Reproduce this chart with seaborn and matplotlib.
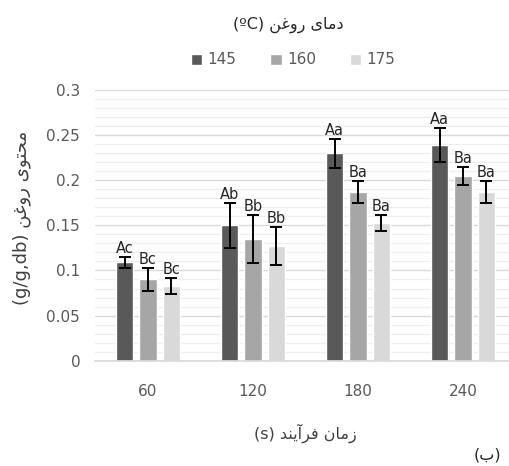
import matplotlib
matplotlib.use("Agg")
import matplotlib.pyplot as plt
import seaborn as sns
import pandas as pd
import numpy as np
from matplotlib.ticker import MultipleLocator, FuncFormatter

# ---------------- data ----------------
times = ["60", "120", "180", "240"]
temps = ["145", "160", "175"]
values_145 = [0.109, 0.150, 0.230, 0.239]
values_160 = [0.090, 0.135, 0.187, 0.205]
values_175 = [0.083, 0.127, 0.153, 0.187]
err_145 = [0.006, 0.025, 0.016, 0.019]
err_160 = [0.013, 0.027, 0.012, 0.010]
err_175 = [0.009, 0.021, 0.009, 0.012]
letters_145 = ["Ac", "Ab", "Aa", "Aa"]
letters_160 = ["Bc", "Bb", "Ba", "Ba"]
letters_175 = ["Bc", "Bb", "Ba", "Ba"]
colors = ["#595959", "#a6a6a6", "#d9d9d9"]

title_fa = "دمای روغن"
ylabel_fa = "محتوی روغن"
xlabel_fa = "زمان فرآیند"
panel_fa = "ب"

# ---------------- simple Persian shaping ----------------
FORMS = {  # isolated, final, initial, medial
    "ا": ("\uFE8D", "\uFE8E", None, None),
    "آ": ("\uFE81", "\uFE82", None, None),
    "ب": ("\uFE8F", "\uFE90", "\uFE91", "\uFE92"),
    "ت": ("\uFE95", "\uFE96", "\uFE97", "\uFE98"),
    "ح": ("\uFEA1", "\uFEA2", "\uFEA3", "\uFEA4"),
    "د": ("\uFEA9", "\uFEAA", None, None),
    "ر": ("\uFEAD", "\uFEAE", None, None),
    "ز": ("\uFEAF", "\uFEB0", None, None),
    "غ": ("\uFECD", "\uFECE", "\uFECF", "\uFED0"),
    "ف": ("\uFED1", "\uFED2", "\uFED3", "\uFED4"),
    "م": ("\uFEE1", "\uFEE2", "\uFEE3", "\uFEE4"),
    "ن": ("\uFEE5", "\uFEE6", "\uFEE7", "\uFEE8"),
    "و": ("\uFEED", "\uFEEE", None, None),
    "ی": ("\uFBFC", "\uFBFD", "\uFBFE", "\uFBFF"),
}


def shape(s):
    out = []
    for i, ch in enumerate(s):
        if ch not in FORMS:
            out.append(ch)
            continue
        f = FORMS[ch]
        prev = s[i - 1] if i > 0 else ""
        nxt = s[i + 1] if i + 1 < len(s) else ""
        jp = prev in FORMS and FORMS[prev][2] is not None
        jn = nxt in FORMS and f[2] is not None
        if jp and jn:
            out.append(f[3])
        elif jp:
            out.append(f[1])
        elif jn:
            out.append(f[2])
        else:
            out.append(f[0])
    return "".join(out)[::-1]


# ---------------- dataframe ----------------
rows = []
for t, vals in zip(temps, [values_145, values_160, values_175]):
    for x, v in zip(times, vals):
        rows.append({"time": x, "temp": t, "value": v})
df = pd.DataFrame(rows)

sns.set_theme(style="white")
plt.rcParams["font.family"] = ["DejaVu Sans"]

fig = plt.figure(figsize=(5.10, 4.66), dpi=100)
ax = fig.add_axes([95.5 / 510, 105.3 / 466, 414.5 / 510, 270.7 / 466])

sns.barplot(data=df, x="time", y="value", hue="temp", order=times,
            hue_order=temps, palette=colors, width=0.66, gap=0.26,
            errorbar=None, ax=ax, legend=True, saturation=1)

errs = [err_145, err_160, err_175]
vals_all = [values_145, values_160, values_175]
lets = [letters_145, letters_160, letters_175]
bar_containers = list(ax.containers)
for ci, cont in enumerate(bar_containers):
    for bi, bar in enumerate(cont):
        xc = bar.get_x() + bar.get_width() / 2
        v = vals_all[ci][bi]
        e = errs[ci][bi]
        ax.errorbar(xc, v, yerr=e, color="black", lw=1.4, capsize=4.5,
                    capthick=1.4, zorder=5)
        ax.annotate(lets[ci][bi], (xc, v + e), xytext=(0, 0.5),
                    textcoords="offset points", ha="center", va="bottom",
                    fontsize=10.5, color="#262626", zorder=6)

ax.set_xlim(-0.5, 3.448)
ax.set_ylim(0, 0.3)
ax.yaxis.set_major_locator(MultipleLocator(0.05))
ax.yaxis.set_minor_locator(MultipleLocator(0.01))
ax.yaxis.set_major_formatter(FuncFormatter(lambda v, p: f"{v:.2f}".rstrip("0").rstrip(".") if v else "0"))
ax.grid(axis="y", which="major", color="#d9d9d9", lw=1.0, zorder=0)
ax.grid(axis="y", which="minor", color="#eeeeee", lw=0.9, zorder=0)
ax.set_axisbelow(True)
for s in ["top", "right", "left"]:
    ax.spines[s].set_visible(False)
ax.spines["bottom"].set_color("#d9d9d9")
ax.tick_params(axis="x", length=0, pad=17, labelsize=11, labelcolor="#595959")
ax.tick_params(axis="y", which="both", length=0, pad=11, labelsize=11,
               labelcolor="#595959")
ax.set_xlabel("")
ax.set_ylabel("")

handles, labels = ax.get_legend_handles_labels()
ax.get_legend().remove()
fig.legend(handles, labels, loc="center", bbox_to_anchor=(293 / 510, 1 - 60 / 466),
           ncol=3, frameon=False, fontsize=11, labelcolor="#595959",
           handlelength=0.75, handleheight=0.75, handletextpad=0.35,
           columnspacing=2.2)

fig.text(288 / 510, 1 - 25 / 466, "(\u00baC) " + shape(title_fa), ha="center",
         va="center", fontsize=11.5, color="#262626")
fig.text(22 / 510, 1 - 218 / 466, "(g/g,db) " + shape(ylabel_fa), ha="center",
         va="center", rotation=90, fontsize=13, color="#404040")
fig.text(305 / 510, 1 - 433 / 466, "(s) " + shape(xlabel_fa), ha="center",
         va="center", fontsize=11.5, color="#404040")
fig.text(487 / 510, 1 - 455 / 466, "(" + shape(panel_fa) + ")", ha="center",
         va="center", fontsize=11.5, color="#262626")

fig.savefig("out.png", dpi=100, facecolor="white")
